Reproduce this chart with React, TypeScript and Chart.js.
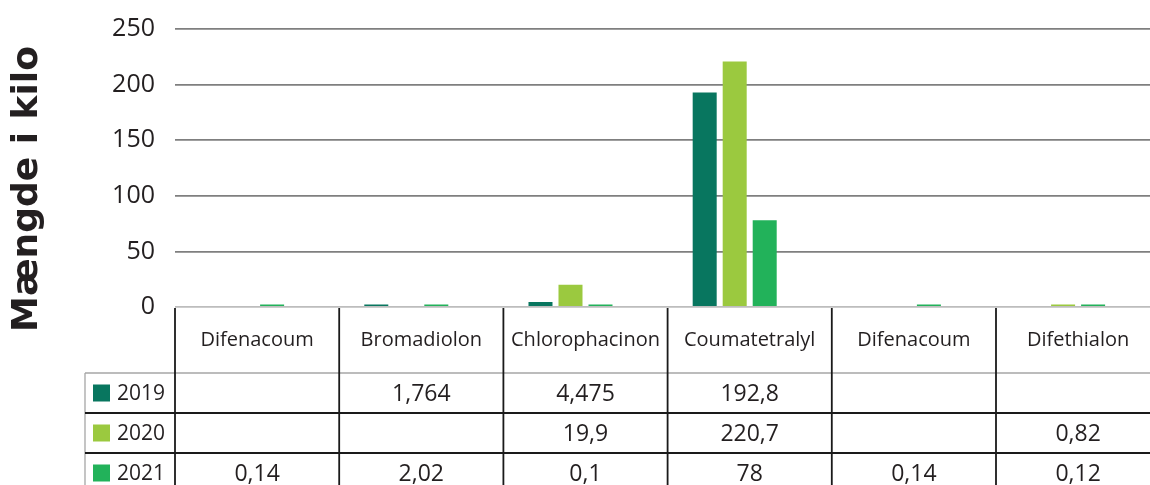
import React, { useEffect, useRef } from "react";
import { Chart, registerables } from "chart.js";

Chart.register(...registerables);

const categories = ["Difenacoum", "Bromadiolon", "Chlorophacinon", "Coumatetralyl", "Difenacoum", "Difethialon"];
const seriesNames = ["2019", "2020", "2021"];
const values2019: (number | null)[] = [null, 1.764, 4.475, 192.8, null, null];
const values2020: (number | null)[] = [null, null, 19.9, 220.7, null, 0.82];
const values2021: (number | null)[] = [0.14, 2.02, 0.1, 78, 0.14, 0.12];
const valuesEmpty: (number | null)[] = [null, null, null, null, null, null];
const seriesColors = ["#08765F", "#9BC93F", "#22B25A"];
const yTicks = [0, 50, 100, 150, 200, 250];
const yTitle = "Mængde i kilo";

const TEXT = "#231F20";

const fmt = (v: number | null) => (v === null ? "" : String(v).replace(".", ","));

const tablePlugin = {
  id: "dataTable",
  afterDraw(chart: any) {
    const ctx = chart.ctx as CanvasRenderingContext2D;
    const area = chart.chartArea;
    const xs = chart.scales.x;
    const n = categories.length;
    const colW = (xs.right - xs.left) / n;
    const y0 = area.bottom;
    const headerH = 66;
    const rowH = 40;
    const y1 = y0 + headerH;
    const legendLeft = area.left - 90;
    const H = chart.height;
    const W = chart.width;
    const allSeries = [values2019, values2020, values2021];

    ctx.save();
    ctx.strokeStyle = "#A6A6A6";
    ctx.lineWidth = 1.3;
    ctx.beginPath();
    ctx.moveTo(legendLeft, y1);
    ctx.lineTo(W, y1);
    ctx.moveTo(legendLeft, y1);
    ctx.lineTo(legendLeft, H);
    ctx.stroke();

    ctx.strokeStyle = "#1A1A1A";
    ctx.lineWidth = 1.8;
    ctx.beginPath();
    for (let r = 1; r < 3; r++) {
      const y = y1 + r * rowH;
      ctx.moveTo(legendLeft, y);
      ctx.lineTo(W, y);
    }
    for (let i = 0; i <= n; i++) {
      const x = xs.left + i * colW;
      ctx.moveTo(x, y0 + 1);
      ctx.lineTo(x, H);
    }
    ctx.stroke();

    ctx.fillStyle = TEXT;
    ctx.textAlign = "center";
    ctx.textBaseline = "middle";
    ctx.font = "20px 'Open Sans'";
    categories.forEach((c, i) => {
      ctx.fillText(c, xs.getPixelForValue(i), y0 + headerH / 2);
    });

    ctx.font = "23px 'Open Sans'";
    allSeries.forEach((vals, r) => {
      const cy = y1 + r * rowH + rowH / 2 + 1;
      vals.forEach((v, i) => {
        const s = fmt(v);
        if (s) ctx.fillText(s, xs.getPixelForValue(i), cy);
      });
    });

    ctx.textAlign = "left";
    ctx.font = "21px 'Open Sans'";
    seriesNames.forEach((name, r) => {
      const cy = y1 + r * rowH + rowH / 2;
      ctx.fillStyle = seriesColors[r];
      ctx.fillRect(legendLeft + 8, cy - 8.5, 17, 17);
      ctx.fillStyle = TEXT;
      ctx.fillText(name, legendLeft + 32, cy + 1);
    });

    ctx.translate(28, 189);
    ctx.rotate(-Math.PI / 2);
    ctx.textAlign = "center";
    ctx.textBaseline = "middle";
    ctx.font = "bold 36px 'DejaVu Sans'";
    ctx.fillStyle = TEXT;
    ctx.fillText(yTitle, 0, 0);
    ctx.restore();
  },
};

export default function App() {
  const ref = useRef<HTMLCanvasElement | null>(null);
  useEffect(() => {
    if (!ref.current) return;
    Chart.defaults.font.family = "'Open Sans'";
    const chart = new Chart(ref.current, {
      type: "bar",
      data: {
        labels: categories,
        datasets: [
          { label: seriesNames[0], data: values2019, backgroundColor: seriesColors[0] },
          { label: seriesNames[1], data: values2020, backgroundColor: seriesColors[1] },
          { label: seriesNames[2], data: values2021, backgroundColor: seriesColors[2] },
          { label: "", data: valuesEmpty, backgroundColor: "transparent" },
        ],
      },
      options: {
        responsive: false,
        animation: false,
        devicePixelRatio: 1,
        layout: { padding: { left: 0, top: 29, right: 9.8, bottom: 178 } },
        datasets: {
          bar: { barPercentage: 0.8, categoryPercentage: 0.731, minBarLength: 2.5 },
        },
        plugins: { legend: { display: false }, tooltip: { enabled: false } },
        scales: {
          x: { display: false },
          y: {
            min: 0,
            max: 250,
            afterBuildTicks: (s: any) => {
              s.ticks = yTicks.map((v) => ({ value: v }));
            },
            afterFit: (s: any) => {
              s.width = 175;
              s.paddingTop = 0;
              s.paddingBottom = 0;
            },
            ticks: { font: { size: 25 }, color: TEXT, padding: 20 },
            grid: {
              drawTicks: false,
              color: (c: any) => (c.tick && c.tick.value === 0 ? "#BDBDBD" : "#7F7F7F"),
              lineWidth: 1.8,
            },
            border: { display: false },
          },
        },
      },
      plugins: [tablePlugin],
    } as any);
    return () => chart.destroy();
  }, []);
  return (
    <div style={{ position: "fixed", left: 0, top: 0, width: 1150, height: 485, overflow: "hidden", background: "#fff" }}>
      <canvas ref={ref} width={1170} height={485} />
    </div>
  );
}
